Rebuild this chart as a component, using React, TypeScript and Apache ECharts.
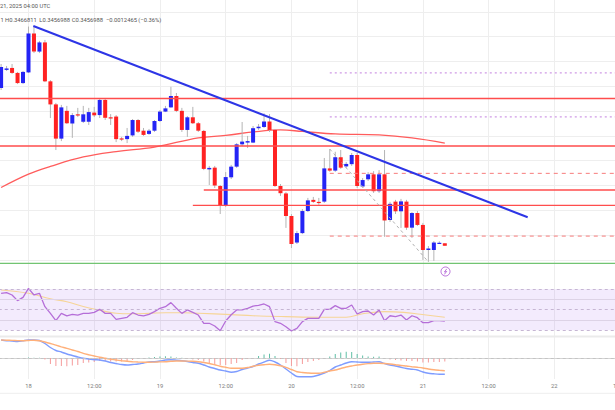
import React, { useEffect, useRef } from "react";
import * as echarts from "echarts";

// Hours are counted from 18 (00:00 UTC); one candle per hour, first candle at 17 19:00.
const firstHour = -5;
const axisStart = -12;
const axisEnd = 110;

const opens = [
  0.4093, 0.4166, 0.4174, 0.4154, 0.4113, 0.4156, 0.4313, 0.424, 0.4277, 0.412,
  0.4027, 0.3889, 0.4001, 0.395, 0.3987, 0.3957, 0.3957, 0.3994, 0.3984, 0.4045,
  0.3975, 0.3978, 0.389, 0.3887, 0.3902, 0.3964, 0.3921, 0.3908, 0.3921, 0.396,
  0.3998, 0.4015, 0.4061, 0.4001, 0.3924, 0.3975, 0.3951, 0.392, 0.3765, 0.3772,
  0.3698, 0.3619, 0.3733, 0.3776, 0.3866, 0.3873, 0.3873, 0.3931, 0.3936, 0.3958,
  0.3924, 0.3698, 0.3668, 0.3577, 0.347, 0.3508, 0.3597, 0.3642, 0.3634, 0.3635,
  0.3769, 0.376, 0.3814, 0.3777, 0.3786, 0.3823, 0.3696, 0.3725, 0.3745, 0.3677,
  0.3745, 0.3561, 0.3635, 0.3596, 0.3635, 0.353, 0.3589, 0.3541, 0.344, 0.344,
  0.3468, 0.3467,
];
const closes = [
  0.4178, 0.4172, 0.4154, 0.4113, 0.4158, 0.4313, 0.424, 0.4277, 0.412, 0.4027,
  0.3889, 0.4015, 0.3951, 0.3984, 0.3982, 0.3987, 0.3996, 0.3983, 0.4045, 0.3973,
  0.3971, 0.3887, 0.3885, 0.39, 0.3964, 0.3917, 0.3904, 0.3921, 0.396, 0.3998,
  0.4011, 0.4061, 0.4001, 0.3924, 0.3975, 0.3951, 0.3921, 0.3767, 0.3771, 0.37,
  0.3619, 0.3734, 0.3776, 0.3866, 0.3877, 0.3879, 0.3931, 0.3937, 0.3958, 0.3924,
  0.3698, 0.3669, 0.3577, 0.3464, 0.3508, 0.3597, 0.364, 0.3634, 0.363, 0.3769,
  0.376, 0.3814, 0.3772, 0.3787, 0.3823, 0.3698, 0.3722, 0.3745, 0.3677, 0.3745,
  0.3559, 0.3626, 0.3596, 0.3636, 0.353, 0.3589, 0.3541, 0.344, 0.3446, 0.347,
  0.3469, 0.3457,
];
const lows = [
  0.4085, 0.4162, 0.415, 0.4109, 0.4109, 0.4154, 0.4234, 0.4234, 0.4117, 0.3972,
  0.3843, 0.3879, 0.3948, 0.3892, 0.3976, 0.3952, 0.3944, 0.3976, 0.3972, 0.3964,
  0.3944, 0.3875, 0.3879, 0.3871, 0.3896, 0.3912, 0.39, 0.3904, 0.3916, 0.3956,
  0.3996, 0.4013, 0.3996, 0.3916, 0.3896, 0.3948, 0.3916, 0.3762, 0.3702, 0.369,
  0.3585, 0.3613, 0.3726, 0.3771, 0.3859, 0.3851, 0.3871, 0.3924, 0.3932, 0.3916,
  0.3694, 0.3658, 0.3529, 0.3448, 0.3464, 0.3504, 0.3593, 0.363, 0.3622, 0.363,
  0.3755, 0.3755, 0.3767, 0.3771, 0.3779, 0.369, 0.369, 0.3718, 0.367, 0.367,
  0.3493, 0.3553, 0.3585, 0.3529, 0.3521, 0.3489, 0.3537, 0.34, 0.3392, 0.3396,
  0.3466, 0.3457,
];
const highs = [
  0.419, 0.4182, 0.419, 0.4158, 0.4162, 0.4341, 0.4339, 0.4283, 0.4287, 0.4125,
  0.4033, 0.4025, 0.4021, 0.3992, 0.4013, 0.4021, 0.4013, 0.4017, 0.4049, 0.4049,
  0.3988, 0.3984, 0.3896, 0.3932, 0.3968, 0.3968, 0.3932, 0.3928, 0.3964, 0.4004,
  0.4021, 0.4098, 0.4073, 0.4013, 0.398, 0.4017, 0.3956, 0.3924, 0.3779, 0.3779,
  0.3702, 0.3754, 0.3783, 0.3871, 0.3956, 0.39, 0.394, 0.3948, 0.3991, 0.3988,
  0.3928, 0.3706, 0.3674, 0.3585, 0.3517, 0.3605, 0.365, 0.3654, 0.365, 0.3811,
  0.3847, 0.3836, 0.3843, 0.3795, 0.3831, 0.3831, 0.373, 0.3754, 0.3758, 0.3762,
  0.3843, 0.3634, 0.3642, 0.3646, 0.3642, 0.3593, 0.3597, 0.3549, 0.3456, 0.3476,
  0.3475, 0.3467,
];

// Moving average on price (sampled along the curve)
const maHours = [-5, 0, 4, 10, 16, 23, 31, 36, 41, 46, 50, 56, 64, 70, 76];
const maValues = [0.3692, 0.3746, 0.3777, 0.3815, 0.3837, 0.3855, 0.3892, 0.3902, 0.3916, 0.3924, 0.3918, 0.3908, 0.3904, 0.3892, 0.3871];

// Drawn levels
const resistancePrices = [0.4051, 0.3859, 0.3682, 0.362];
const resistanceStarts = [axisStart, axisStart, 32, 30];
const fibDashedPrices = [0.3749, 0.3496];
const fibDottedPrices = [0.4154, 0.3977];
const fibStart = 55;
const supportPrice = 0.3386;
const trendHours = [0.88, 91.13];
const trendPrices = [0.4343, 0.3572];
const swingHours = [55, 73];
const swingPrices = [0.3847, 0.3392];

// RSI
const rsiValues = [
  65.8, 66.4, 64.2, 58.7, 61.9, 70.6, 64.2, 65.8, 52.9, 46.4,
  39.3, 46.4, 43.9, 45.5, 44.8, 46.4, 46.4, 47.4, 50.3, 46.4,
  46.4, 40.6, 41.6, 42.6, 47.1, 44.8, 43.9, 45.5, 48.1, 51.3,
  52.9, 56.8, 51.3, 46.4, 49.7, 47.4, 44.8, 36.8, 36.8, 34.2,
  29.6, 39.0, 45.1, 49.7, 49.7, 51.3, 53.5, 54.2, 55.5, 52.9,
  38.4, 36.8, 33.5, 29.3, 31.9, 38.4, 41.6, 41.6, 41.6, 50.3,
  50.3, 53.9, 51.3, 51.3, 54.5, 45.8, 48.1, 48.7, 44.8, 49.7,
  39.3, 44.1, 43.2, 44.8, 40.0, 44.1, 42.2, 37.4, 37.4, 39.3,
  39.3, 39.0,
];
const rsiMaHours = [-5, 0, 4, 7, 10, 13, 16, 19, 22, 25, 28, 31, 37, 41, 47, 53, 58, 61, 65, 68.5, 71.5, 76];
const rsiMaValues = [69.0, 65.8, 60.5, 57.7, 53, 49.5, 46.5, 46, 46.4, 47, 47, 46.5, 45.2, 44.1, 43.2, 42.6, 42.6, 46.0, 48.1, 47.4, 45.5, 42.6];
const rsiLevels = [70, 50, 30];
const rsiGridLevels = [60, 40];

// MACD (in units of 1e-4)
const macdValues = [
  18, 17.3, 17, 16.5, 17.3, 18, 18, 17.5, 14.5, 10.5,
  7.5, 6, 4, 2.5, 1, -0.3, -1, -1.7, -2, -3,
  -4.5, -5.5, -6.5, -7, -6.5, -6, -5, -4, -3.7, -3,
  -2, -1.8, -2.2, -2.7, -3.5, -4.5, -5.3, -7, -9, -10.5,
  -12, -13, -14.2, -13.5, -11.5, -10, -8.5, -6, -4, -2.2,
  -4, -7, -11, -15, -18.5, -18.7, -18.7, -18.5, -17, -15,
  -12.5, -9, -7, -5, -3.7, -4, -4.3, -4.3, -4, -3.7,
  -5.5, -7, -8, -9.3, -10.5, -11.2, -12, -14, -15.3, -15.8,
  -16.2, -16.3,
];
const signalValues = [
  18, 17.8, 17.6, 17.4, 17.3, 17.5, 17.8, 17.2, 16, 14.5,
  12.8, 11.2, 9.7, 8, 6.5, 4.7, 3.3, 2, 0.7, -0.3,
  -1.2, -2, -2.7, -3.3, -3.7, -4, -4.2, -4.3, -4.1, -3.9,
  -3.7, -3.3, -3, -3, -3.1, -3.3, -3.7, -4.5, -5.5, -6.8,
  -8.2, -9.3, -10.3, -10.3, -10.2, -9.5, -8.3, -7.3, -6.7, -6.3,
  -6.8, -7.8, -9.3, -11.5, -13.7, -14.5, -15, -15.3, -15.3, -14.3,
  -13, -12, -10.5, -9, -8, -7, -6.2, -5.6, -5.3, -5.2,
  -5.5, -6, -6.7, -7.5, -8, -8.7, -9.3, -10, -11, -11.8,
  -12.3, -12.7,
];
const histValues = [
  0, -0.5, -0.6, -0.9, 0, 0.5, 0.2, 0.3, -1.5, -6,
  -8, -8, -8.3, -7.5, -7, -5, -4.5, -4, -3, -3,
  -3.5, -3.5, -3.5, -3, -2, -1, -0.5, 0.5, 1, 1.5,
  1.7, 1.5, 0.5, 0.2, -0.5, -1.5, -2, -3.5, -5, -6,
  -7, -7, -6, -5, -2, -1, -0.5, 2, 3.5, 4.3,
  2, -1, -5, -8, -8.3, -6, -4, -3, -2, -0.5,
  1.5, 4, 5.5, 6.3, 6, 4, 2.5, 1.5, 1.3, 1.5,
  -0.5, -1.5, -2, -2.5, -3, -3, -3.5, -4.5, -4.5, -4,
  -4, -3.5,
];

const titleLine1 = "21, 2025 04:00 UTC";
const titleParts = ["1", "H0.3466811", "L0.3456988", "C0.3456988", "\u22120.0012465 (\u22120.36%)"];

const BLUE = "#2424f5";
const RED = "#ff2222";
const FONT = "Roboto";

export default function App() {
  const ref = useRef<HTMLDivElement>(null);

  useEffect(() => {
    document.body.style.margin = "0";
    const chart = echarts.init(ref.current as HTMLDivElement, null, { renderer: "svg" });

    const hourOf = (i: number) => firstHour + i;
    const candleData = opens.map((o, i) => [hourOf(i), o, closes[i], lows[i], highs[i]]);
    const rsiData = rsiValues.map((v, i) => [hourOf(i), v]);
    const macdData = macdValues.map((v, i) => [hourOf(i), v]);
    const signalData = signalValues.map((v, i) => [hourOf(i), v]);
    const histData = histValues.map((v, i) => [hourOf(i), v]);

    const gridLeft = -37.24;
    const gridRight = -16.06;

    const hLine = (name: string, start: number, price: number, lineStyle: any) => ({
      name,
      type: "line",
      xAxisIndex: 0,
      yAxisIndex: 0,
      data: [
        [start, price],
        [axisEnd, price],
      ],
      showSymbol: false,
      symbol: "none",
      silent: true,
      z: 4,
      lineStyle,
    });

    const xAxisBase = (gridIndex: number, showLabels: boolean) => ({
      type: "value",
      gridIndex,
      min: axisStart,
      max: axisEnd,
      interval: 12,
      axisTick: { show: false },
      axisLine: { show: showLabels, lineStyle: { color: "#d4d4d4", width: 1 } },
      splitLine: { show: true, lineStyle: { color: "#eeeeee", width: 1 } },
      axisLabel: {
        show: showLabels,
        showMinLabel: false,
        showMaxLabel: false,
        margin: 4,
        fontSize: 5.8,
        fontFamily: FONT,
        color: "#7a7a7a",
        formatter: (v: number) => {
          const r = ((v % 24) + 24) % 24;
          if (r === 0) return String(18 + v / 24);
          return "12:00";
        },
      },
    });

    const mainSplitColors = ["rgba(0,0,0,0)"].concat(new Array(12).fill("#eeeeee"));

    const series: any[] = [
      {
        name: "MA",
        type: "line",
        xAxisIndex: 0,
        yAxisIndex: 0,
        data: maHours.map((h, i) => [h, maValues[i]]),
        smooth: 0.4,
        showSymbol: false,
        symbol: "none",
        z: 2,
        lineStyle: { color: "#ff5c5c", width: 1.3 },
      },
      {
        name: "candles",
        type: "custom",
        xAxisIndex: 0,
        yAxisIndex: 0,
        data: candleData,
        encode: { x: 0, y: [1, 2, 3, 4] },
        z: 3,
        clip: true,
        renderItem: (params: any, api: any) => {
          const x = api.value(0);
          const o = api.value(1);
          const c = api.value(2);
          const l = api.value(3);
          const hi = api.value(4);
          const pO = api.coord([x, o]);
          const pC = api.coord([x, c]);
          const pL = api.coord([x, l]);
          const pH = api.coord([x, hi]);
          const up = c >= o;
          const top = Math.min(pO[1], pC[1]);
          const h = Math.max(Math.abs(pO[1] - pC[1]), 1.2);
          return {
            type: "group",
            children: [
              {
                type: "line",
                shape: { x1: pH[0], y1: pH[1], x2: pL[0], y2: pL[1] },
                style: { stroke: "#b4b4b4", lineWidth: 1 },
              },
              {
                type: "rect",
                shape: { x: pO[0] - 2, y: top, width: 4, height: h },
                style: { fill: up ? BLUE : RED },
              },
            ],
          };
        },
      },
      ...resistancePrices.map((p, i) =>
        hLine("resistance" + i, resistanceStarts[i], p, { color: "#ff4d4d", width: 1.4 })
      ),
      ...fibDashedPrices.map((p, i) =>
        hLine("fibDashed" + i, fibStart, p, { color: "#f77b7b", width: 1, type: [4, 4] })
      ),
      ...fibDottedPrices.map((p, i) =>
        hLine("fibDotted" + i, fibStart, p, { color: "#cf9ae6", width: 1.2, type: [2, 3] })
      ),
      hLine("support", axisStart, supportPrice, { color: "#72c472", width: 1.3 }),
      {
        name: "trend",
        type: "line",
        xAxisIndex: 0,
        yAxisIndex: 0,
        data: trendHours.map((h, i) => [h, trendPrices[i]]),
        showSymbol: false,
        symbol: "none",
        z: 5,
        lineStyle: { color: "#2d35e6", width: 2 },
      },
      {
        name: "swing",
        type: "line",
        xAxisIndex: 0,
        yAxisIndex: 0,
        data: swingHours.map((h, i) => [h, swingPrices[i]]),
        showSymbol: false,
        symbol: "none",
        z: 4,
        lineStyle: { color: "#b0b0b0", width: 1, type: [3, 3] },
      },
      {
        name: "RSI",
        type: "line",
        xAxisIndex: 1,
        yAxisIndex: 1,
        data: rsiData,
        showSymbol: false,
        symbol: "none",
        z: 4,
        lineStyle: { color: "#b56ed8", width: 1.3 },
        markArea: {
          silent: true,
          itemStyle: { color: "rgba(160, 90, 235, 0.12)" },
          data: [[{ yAxis: rsiLevels[0] }, { yAxis: rsiLevels[2] }]],
        },
        markLine: {
          silent: true,
          symbol: "none",
          label: { show: false },
          data: [
            ...rsiLevels.map((v) => ({ yAxis: v, lineStyle: { color: "#c6b6d3", width: 1, type: [3, 3] } })),
            ...rsiGridLevels.map((v) => ({ yAxis: v, lineStyle: { color: "#ddd3e6", width: 1, type: "solid" } })),
          ],
        },
      },
      {
        name: "RSI MA",
        type: "line",
        xAxisIndex: 1,
        yAxisIndex: 1,
        data: rsiMaHours.map((h, i) => [h, rsiMaValues[i]]),
        smooth: 0.4,
        showSymbol: false,
        symbol: "none",
        z: 3,
        lineStyle: { color: "#f6d597", width: 1.1 },
      },
      {
        name: "Histogram",
        type: "bar",
        xAxisIndex: 2,
        yAxisIndex: 2,
        data: histData,
        barWidth: 1,
        z: 2,
        itemStyle: {
          color: (p: any) => (p.value[1] >= 0 ? "#5fbfa6" : "#f59a9a"),
        },
        markLine: {
          silent: true,
          symbol: "none",
          label: { show: false },
          data: [{ yAxis: 0, lineStyle: { color: "#c4c4c4", width: 1, type: [3, 3] } }],
        },
      },
      {
        name: "MACD",
        type: "line",
        xAxisIndex: 2,
        yAxisIndex: 2,
        data: macdData,
        smooth: 0.3,
        showSymbol: false,
        symbol: "none",
        z: 3,
        lineStyle: { color: "#7e9cff", width: 1.4 },
      },
      {
        name: "Signal",
        type: "line",
        xAxisIndex: 2,
        yAxisIndex: 2,
        data: signalData,
        smooth: 0.3,
        showSymbol: false,
        symbol: "none",
        z: 3,
        lineStyle: { color: "#ffb07a", width: 1.4 },
      },
    ];

    const gridBase = { left: gridLeft, right: gridRight, outerBoundsMode: "none", containLabel: false };

    const option: any = {
      animation: false,
      backgroundColor: "#ffffff",
      textStyle: { fontFamily: FONT },
      grid: [
        { ...gridBase, top: -12.9, height: 297.6 },
        { ...gridBase, top: 282.8, height: 53.7 },
        { ...gridBase, top: 337, height: 42 },
      ],
      xAxis: [xAxisBase(0, false), xAxisBase(1, false), xAxisBase(2, true)],
      yAxis: [
        {
          type: "value",
          gridIndex: 0,
          min: 0.33,
          max: 0.45,
          interval: 0.01,
          axisLabel: { show: false },
          axisLine: { show: false },
          axisTick: { show: false },
          splitLine: { show: true, lineStyle: { color: mainSplitColors, width: 1 } },
        },
        {
          type: "value",
          gridIndex: 1,
          min: 24,
          max: 76,
          axisLabel: { show: false },
          axisLine: { show: false },
          axisTick: { show: false },
          splitLine: { show: false },
        },
        {
          type: "value",
          gridIndex: 2,
          min: -21,
          max: 21,
          axisLabel: { show: false },
          axisLine: { show: false },
          axisTick: { show: false },
          splitLine: { show: false },
        },
      ],
      graphic: [
        { type: "rect", shape: { x: 0, y: 335.6, width: 615, height: 2 }, style: { fill: "#ebebeb" }, z: 1 },
        { type: "line", shape: { x1: 0, y1: 393.3, x2: 615, y2: 393.3 }, style: { stroke: "#eeeeee", lineWidth: 1 } },
        {
          type: "text",
          x: 0,
          y: 6,
          style: { text: titleLine1, fontSize: 5.8, fontFamily: FONT, fill: "#555", verticalAlign: "middle" },
          z: 10,
        },
        ...titleParts.map((t, i) => ({
          type: "text",
          x: [0.5, 5, 39.3, 71.7, 106][i],
          y: 20,
          style: { text: t, fontSize: 5.8, fontFamily: FONT, fill: "#555", verticalAlign: "middle" },
          z: 10,
        })),
        {
          type: "circle",
          shape: { cx: 445.5, cy: 271.5, r: 4.5 },
          style: { fill: "#ffffff", stroke: "#b66ad9", lineWidth: 1 },
          z: 10,
        },
        {
          type: "polyline",
          shape: { points: [[446.8, 268.8], [444.4, 272], [446.7, 271.4], [444.3, 274.4]] },
          style: { stroke: "#b66ad9", lineWidth: 0.9, fill: "none" },
          z: 11,
        },
      ],
      series,
    };

    chart.setOption(option);
    return () => chart.dispose();
  }, []);

  return (
    <div
      ref={ref}
      style={{ position: "fixed", left: 0, top: 0, width: 615, height: 410, background: "#fff" }}
    />
  );
}
